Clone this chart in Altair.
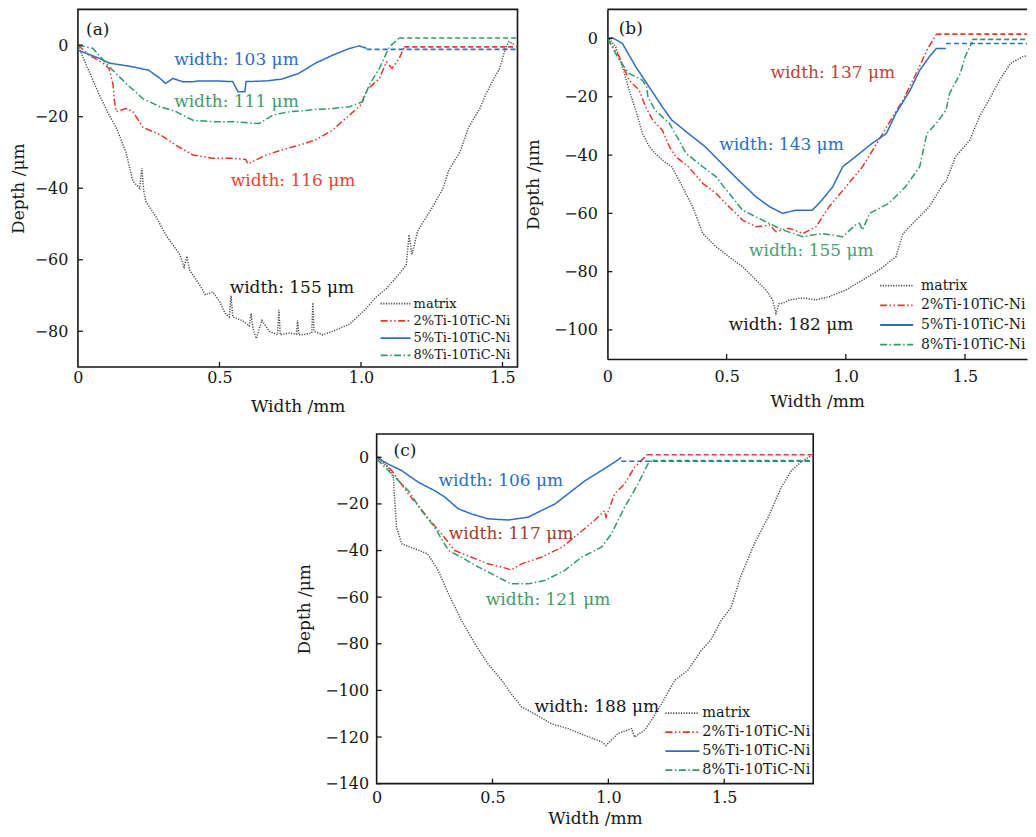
import altair as alt
import pandas as pd

SERIES = ["matrix", "2%Ti-10TiC-Ni", "5%Ti-10TiC-Ni", "8%Ti-10TiC-Ni"]
LINE_COLORS = ["#4e4e4e", "#e2382c", "#2f6cc2", "#2e9a66"]
LINE_DASHES = [[1.2, 1.4], [7, 2.5, 1.5, 2.5, 1.5, 2.5], [1, 0], [7, 2.5, 1.5, 2.5]]
FONT = "DejaVu Serif"
INK = "#161616"

# ---------------- panel (a) ----------------
A_MATRIX_X = [0, 0.03, 0.076, 0.11, 0.135, 0.17, 0.194, 0.218, 0.226, 0.232, 0.24, 0.276, 0.31, 0.36,
              0.375, 0.385, 0.395, 0.43, 0.45, 0.476, 0.5, 0.52, 0.535, 0.541, 0.547, 0.58, 0.605, 0.612,
              0.618, 0.63, 0.65, 0.676, 0.705, 0.71, 0.715, 0.747, 0.772, 0.776, 0.78, 0.794, 0.826, 0.83,
              0.834, 0.865, 0.9, 0.96, 1.0, 1.02, 1.05, 1.09, 1.135, 1.16, 1.17, 1.18, 1.2, 1.25, 1.29,
              1.31, 1.35, 1.38, 1.42, 1.44, 1.465, 1.49, 1.51, 1.523, 1.545]
A_MATRIX_Y = [0, -5.6, -14, -19.5, -23, -30, -38, -40, -34.4, -40.5, -43.7, -48, -53, -58.6,
              -62, -59, -63, -67, -69.8, -69, -71.6, -75, -76, -70, -76, -77, -78.5, -75,
              -79, -82, -77, -80, -81, -74, -81, -80.5, -80.8, -77, -81, -81, -80.5, -72,
              -80, -81, -80, -78, -75, -73.5, -70.7, -68, -64, -61.4, -53, -58.6, -52, -45.6, -40,
              -35, -29.8, -23, -17.7, -14, -10, -6.5, -1, 1, 0]
A_RED_X = [0, 0.04, 0.088, 0.11, 0.124, 0.128, 0.135, 0.17, 0.194, 0.23, 0.29, 0.347, 0.406, 0.476,
           0.547, 0.594, 0.6, 0.665, 0.72, 0.78, 0.84, 0.9, 0.96, 1.0, 1.02, 1.065, 1.09, 1.11, 1.135, 1.153]
A_RED_Y = [0, -2.8, -5, -6.5, -11, -15, -18.6, -17.7, -18.6, -23, -25, -28, -30.7, -31.6,
           -31.6, -32, -33.2, -30.7, -29.3, -28, -26.5, -23.7, -19.5, -16.7, -12.6, -9.3, -4.7, -6.5, -3.7, -0.5]
A_BLUE_X = [0, 0.076, 0.11, 0.19, 0.25, 0.29, 0.31, 0.335, 0.37, 0.406, 0.43, 0.49, 0.547, 0.565,
            0.59, 0.594, 0.665, 0.72, 0.78, 0.84, 0.9, 0.96, 0.994, 1.02]
A_BLUE_Y = [-1.4, -3.7, -5, -6, -7, -9.3, -10.7, -9.3, -10.2, -10.2, -10, -10, -10.2, -13,
            -13, -10.2, -10, -9.5, -7.9, -5, -2.8, -0.9, -0.2, -0.9]
A_GREEN_X = [0, 0.053, 0.11, 0.17, 0.23, 0.29, 0.347, 0.406, 0.476, 0.547, 0.64, 0.69, 0.75, 0.84,
             0.9, 0.96, 1.006, 1.03, 1.065, 1.1, 1.135]
A_GREEN_Y = [0, -0.9, -6, -10.7, -15, -17.2, -18.6, -21, -21.4, -21.4, -21.9, -19.5, -18.6, -18,
             -17.7, -17.2, -15.8, -11, -6.5, -0.5, 2]
A_EXT_START = [1.153, 1.02, 1.135]
A_EXT_LEVEL = [-0.5, -1.2, 2]
A_NOTES = ["width: 103 μm", "width: 111 μm", "width: 116 μm", "width: 155 μm"]
A_NOTE_X = [0.56, 0.56, 0.76, 0.756]
A_NOTE_Y = [-4.2, -15.8, -38, -68]
A_NOTE_C = ["#2f6cc2", "#3f9a6f", "#e8432e", "#161616"]

# ---------------- panel (b) ----------------
B_MATRIX_X = [0, 0.035, 0.063, 0.091, 0.119, 0.147, 0.175, 0.2, 0.23, 0.27, 0.315, 0.357, 0.4, 0.455,
              0.51, 0.567, 0.623, 0.665, 0.693, 0.707, 0.72, 0.735, 0.763, 0.82, 0.875, 0.93, 1.0, 1.07,
              1.14, 1.21, 1.24, 1.295, 1.35, 1.41, 1.42, 1.46, 1.52, 1.56, 1.6, 1.645, 1.69, 1.74, 1.8]
B_MATRIX_Y = [0.6, -2.9, -9.7, -17.7, -24.6, -32.6, -37, -39.4, -41.7, -44, -50.9, -57.7, -66.9, -71.4,
              -74.9, -78.3, -82.9, -86.3, -89.7, -94.3, -91, -90.9, -89.7, -89, -89.7, -88.6, -86.3, -82.9,
              -79.4, -74.9, -66.9, -62.3, -57.7, -49.7, -49.1, -40.6, -34.9, -26.9, -21.1, -14.3, -8.6, -6.3, -5.1]
B_RED_X = [0, 0.05, 0.091, 0.133, 0.16, 0.19, 0.23, 0.26, 0.287, 0.34, 0.4, 0.455, 0.51, 0.567, 0.623,
           0.68, 0.707, 0.763, 0.82, 0.875, 0.93, 1.0, 1.07, 1.13, 1.18, 1.24, 1.295, 1.34, 1.38]
B_RED_Y = [0, -6.3, -14.3, -17.7, -23.4, -28, -31.4, -37.1, -40.6, -44, -49.7, -53.1, -57.7, -62.3, -64.6,
           -64, -66.3, -65.1, -66.9, -64.6, -57.7, -50.9, -44, -36, -29.1, -21.1, -12, -4, 1.5]
B_BLUE_X = [0, 0.02, 0.063, 0.119, 0.175, 0.23, 0.27, 0.34, 0.41, 0.48, 0.55, 0.623, 0.68, 0.735, 0.79,
            0.86, 0.9, 0.945, 0.987, 1.04, 1.11, 1.17, 1.21, 1.27, 1.31, 1.35, 1.38, 1.42]
B_BLUE_Y = [0, 0.3, -1.7, -9.7, -16.6, -23.4, -28, -32.6, -37.1, -42.9, -48.6, -54.3, -57.7, -60, -58.9,
            -58.9, -55.4, -50.9, -44, -40.6, -36, -32.6, -25.7, -17.7, -10.9, -6.3, -3.4, -3.4]
B_GREEN_X = [0, 0.05, 0.091, 0.147, 0.165, 0.17, 0.2, 0.26, 0.3, 0.33, 0.4, 0.455, 0.51, 0.567, 0.65,
             0.735, 0.82, 0.9, 0.987, 1.04, 1.057, 1.07, 1.1, 1.18, 1.25, 1.31, 1.34, 1.38, 1.42, 1.435,
             1.48, 1.5, 1.53]
B_GREEN_Y = [0, -7.4, -12, -14.3, -16.6, -20, -24.6, -29.1, -34.9, -39.4, -44, -47.4, -53.1, -58.9, -62.3,
             -65.7, -68, -66.9, -68, -64, -63.4, -65.7, -60, -56.6, -50.9, -44, -32.6, -29.1, -24.6, -18.9,
             -12, -6.3, -1.1]
B_EXT_START = [1.38, 1.42, 1.53]
B_EXT_LEVEL = [1.5, -1.7, -0.3]
B_NOTES = ["width: 137 μm", "width: 143 μm", "width: 155 μm", "width: 182 μm"]
B_NOTE_X = [0.945, 0.73, 0.855, 0.77]
B_NOTE_Y = [-12, -36.6, -73, -98.3]
B_NOTE_C = ["#b5453a", "#2f6cc2", "#44a07a", "#161616"]

# ---------------- panel (c) ----------------
C_MATRIX_X = [0, 0.05, 0.072, 0.079, 0.086, 0.108, 0.165, 0.22, 0.266, 0.31, 0.366, 0.424, 0.48, 0.54,
              0.58, 0.625, 0.68, 0.754, 0.826, 0.898, 0.97, 0.99, 1.04, 1.1, 1.113, 1.157, 1.185, 1.23,
              1.286, 1.343, 1.4, 1.44, 1.487, 1.53, 1.57, 1.63, 1.69, 1.746, 1.79, 1.83, 1.875]
C_MATRIX_Y = [0, -4.3, -8.6, -20, -30, -37.1, -39.3, -41.4, -48.6, -58.6, -70, -80, -88.6, -95.7,
              -101.4, -107, -110, -114.3, -116.4, -119.3, -122, -123.6, -118.6, -116.4, -120, -117, -112.9,
              -105.7, -95.7, -91.4, -82.9, -78.6, -70, -64.3, -51.4, -37, -25.7, -12.9, -5.7, -2.1, 0.7]
C_RED_X = [0, 0.065, 0.137, 0.208, 0.28, 0.338, 0.41, 0.48, 0.54, 0.58, 0.625, 0.71, 0.8, 0.87, 0.94,
           0.984, 0.99, 1.027, 1.07, 1.113, 1.17]
C_RED_Y = [0.7, -5.7, -15.7, -24.3, -32.9, -40, -42.9, -45.7, -47.1, -48.3, -45.7, -42.9, -38.6, -32.9,
           -27.1, -22.9, -25.7, -15.7, -11.4, -4.3, 1.4]
C_BLUE_X = [0, 0.05, 0.108, 0.18, 0.25, 0.295, 0.352, 0.41, 0.48, 0.567, 0.654, 0.71, 0.77, 0.826, 0.9,
            0.97, 1.027, 1.056]
C_BLUE_Y = [0, -2.9, -5.7, -10.7, -14.3, -17.1, -22.1, -24.3, -26.4, -26.9, -25.7, -22.9, -20, -15.7,
            -10, -5.7, -2.1, 0]
C_GREEN_X = [0, 0.065, 0.137, 0.194, 0.25, 0.31, 0.366, 0.44, 0.51, 0.58, 0.654, 0.725, 0.81, 0.884,
             0.97, 1.013, 1.07, 1.128, 1.17, 1.19]
C_GREEN_Y = [-0.7, -7.1, -14.3, -22.9, -30, -40, -42.9, -47.1, -50.7, -54.3, -54.3, -52.9, -48.6, -42.9,
             -38.6, -32.9, -21.4, -11.4, -2.9, -1.4]
C_EXT_START = [1.17, 1.056, 1.19]
C_EXT_LEVEL = [1.1, -1.7, -1.4]
C_NOTES = ["width: 106 μm", "width: 117 μm", "width: 121 μm", "width: 188 μm"]
C_NOTE_X = [0.536, 0.58, 0.74, 0.95]
C_NOTE_Y = [-10, -32.9, -61.4, -107]
C_NOTE_C = ["#2f6cc2", "#a8392c", "#3f9a70", "#161616"]

X_LABELS = [0, 0.5, 1.0, 1.5]
X_TICKS = [0.5, 1.0, 1.5]
A_Y_LABELS = [0, -20, -40, -60, -80]
B_Y_LABELS = [0, -20, -40, -60, -80, -100]
C_Y_LABELS = [0, -20, -40, -60, -80, -100, -120, -140]


def curves_frame(xs_list, ys_list):
    rows = []
    for s, xs, ys in zip(SERIES, xs_list, ys_list):
        for i, (x, y) in enumerate(zip(xs, ys)):
            rows.append({"s": s, "x": x, "y": y, "i": i})
    return pd.DataFrame(rows)


def ext_frame(starts, levels, xmax):
    rows = []
    for s, x0, lv in zip(SERIES[1:], starts, levels):
        rows.append({"s": s, "x": x0, "y": lv, "i": 0})
        rows.append({"s": s, "x": xmax, "y": lv, "i": 1})
    return pd.DataFrame(rows)


def panel(tag, tag_x, tag_y, curves, ext, notes, xmax, ydom, ylabels, w, h, ax, leg, boxed):
    xsc = alt.Scale(domain=[0, xmax], nice=False, zero=False)
    ysc = alt.Scale(domain=ydom, nice=False, zero=False)
    xaxis = alt.Axis(values=X_LABELS, labelExpr="datum.value == 0 ? '0' : format(datum.value, '.1f')",
                     title="Width /mm", labelPadding=ax[0], titlePadding=ax[1], domain=not boxed,
                     ticks=False, tickSize=0, grid=False, labelFlush=False, labelOverlap=False)
    yaxis = alt.Axis(values=ylabels, title="Depth /μm", labelPadding=ax[2], titlePadding=ax[3],
                     domain=not boxed, ticks=False, tickSize=0, grid=False, labelOverlap=False)
    legend = alt.Legend(title=None, orient="none", legendX=leg[0], legendY=leg[1], labelFont=FONT,
                        labelFontSize=leg[2], labelColor=INK, symbolType="stroke", symbolSize=leg[3] ** 2,
                        symbolStrokeWidth=1.8, clipHeight=leg[4], rowPadding=leg[5], labelOffset=leg[6],
                        padding=0, labelLimit=0)
    lines = alt.Chart(curves).mark_line(clip=True, strokeWidth=1.5).encode(
        x=alt.X("x:Q", scale=xsc, axis=xaxis),
        y=alt.Y("y:Q", scale=ysc, axis=yaxis),
        color=alt.Color("s:N", scale=alt.Scale(domain=SERIES, range=LINE_COLORS), legend=legend),
        strokeDash=alt.StrokeDash("s:N", scale=alt.Scale(domain=SERIES, range=LINE_DASHES), legend=legend),
        order="i:Q",
    )
    exts = alt.Chart(ext).mark_line(clip=True, strokeWidth=1.7, strokeDash=[5, 3]).encode(
        x="x:Q", y="y:Q",
        stroke=alt.Stroke("s:N", scale=alt.Scale(domain=SERIES, range=LINE_COLORS), legend=None),
        detail="s:N", order="i:Q",
    )
    layers = [lines, exts]
    texts, nx, ny, nc = notes
    for t, x, y, c in zip(texts, nx, ny, nc):
        layers.append(alt.Chart(pd.DataFrame({"x": [x], "y": [y], "t": [t]})).mark_text(
            font=FONT, fontSize=17, color=c).encode(x="x:Q", y="y:Q", text="t:N"))
    layers.append(alt.Chart(pd.DataFrame({"x": [tag_x], "y": [tag_y], "t": [tag]})).mark_text(
        font=FONT, fontSize=17, color=INK).encode(x="x:Q", y="y:Q", text="t:N"))
    layers.append(alt.Chart(pd.DataFrame({"x": X_TICKS})).mark_rule(color=INK, strokeWidth=1.3).encode(
        x="x:Q", y=alt.value(h), y2=alt.value(h - 5)))
    layers.append(alt.Chart(pd.DataFrame({"y": ylabels})).mark_rule(color=INK, strokeWidth=1.3).encode(
        y="y:Q", x=alt.value(0), x2=alt.value(5)))
    if not boxed:
        layers.append(alt.Chart(pd.DataFrame({"y": [0]})).mark_rule(color=INK, strokeWidth=1.6).encode(
            x=alt.value(0), x2=alt.value(w), y=alt.value(0)))
    view = alt.ViewBackground(stroke=INK, strokeWidth=1.6) if boxed else alt.ViewBackground(stroke=None)
    return alt.layer(*layers).properties(width=w, height=h, view=view)


pa = panel("(a)", 0.07, 4.2,
           curves_frame([A_MATRIX_X, A_RED_X, A_BLUE_X, A_GREEN_X], [A_MATRIX_Y, A_RED_Y, A_BLUE_Y, A_GREEN_Y]),
           ext_frame(A_EXT_START, A_EXT_LEVEL, 1.553),
           (A_NOTES, A_NOTE_X, A_NOTE_Y, A_NOTE_C),
           1.553, [-90, 10], A_Y_LABELS, 440, 358, (2, 13, 10, 7),
           (302, 287, 13, 30, 15, 2.3, 2), True)
pb = panel("(b)", 0.098, 3.4,
           curves_frame([B_MATRIX_X, B_RED_X, B_BLUE_X, B_GREEN_X], [B_MATRIX_Y, B_RED_Y, B_BLUE_Y, B_GREEN_Y]),
           ext_frame(B_EXT_START, B_EXT_LEVEL, 1.76),
           (B_NOTES, B_NOTE_X, B_NOTE_Y, B_NOTE_C),
           1.76, [-110, 10], B_Y_LABELS, 420, 350, (9, 9, 10, 11),
           (272, 268, 14, 33, 17, 2.7, 7), False)
pc = panel("(c)", 0.122, 2.9,
           curves_frame([C_MATRIX_X, C_RED_X, C_BLUE_X, C_GREEN_X], [C_MATRIX_Y, C_RED_Y, C_BLUE_Y, C_GREEN_Y]),
           ext_frame(C_EXT_START, C_EXT_LEVEL, 1.884),
           (C_NOTES, C_NOTE_X, C_NOTE_Y, C_NOTE_C),
           1.884, [-140, 10], C_Y_LABELS, 437, 350, (6, 5, 8, 11),
           (288, 271, 14.5, 34, 17, 2, 2), True)

spacer = alt.Chart(pd.DataFrame({"x": [0]})).mark_point(opacity=0, size=1).encode(
    x=alt.X("x:Q", axis=None), y=alt.Y("x:Q", axis=None)
).properties(width=1, height=1, view=alt.ViewBackground(stroke=None))

res = dict(color="independent", strokeDash="independent", stroke="independent")
row1 = alt.hconcat(pa, pb, spacing=90, bounds="flush").resolve_scale(**res).resolve_legend(
    color="independent", strokeDash="independent")
row2 = alt.hconcat(spacer, pc, spacing=298, bounds="flush").resolve_scale(**res).resolve_legend(
    color="independent", strokeDash="independent")

chart = alt.vconcat(row1, row2, spacing=18, padding=0, background="white").resolve_scale(
    **res).resolve_legend(color="independent", strokeDash="independent").configure_axis(
    labelFont=FONT, labelFontSize=16, labelColor=INK, titleFont=FONT, titleFontSize=17,
    titleFontWeight="normal", titleColor=INK, domainColor=INK, domainWidth=1.6
).configure_view(stroke=None)

chart.save("out.html", embed_options={"renderer": "svg", "actions": False})
